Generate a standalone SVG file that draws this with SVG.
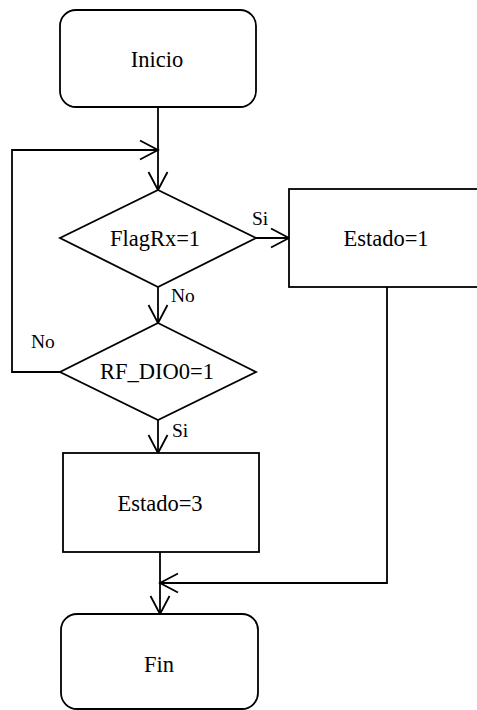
<svg xmlns="http://www.w3.org/2000/svg" width="477" height="710" viewBox="0 0 477 710">
<style>
.shape{fill:#fff;stroke:#000;stroke-width:1.8}
.conn{fill:none;stroke:#000;stroke-width:1.8}
.lbl{font-family:"Liberation Serif","Times New Roman",serif;font-size:22.5px;fill:#000;text-anchor:middle}
.sm{font-family:"Liberation Serif","Times New Roman",serif;font-size:19.5px;fill:#000}
</style>
<defs>
<marker id="arr" viewBox="-20 -11 22 22" refX="0" refY="0" markerWidth="22" markerHeight="22" markerUnits="userSpaceOnUse" orient="auto">
<path d="M-18,-9.5 L0,0 L-18,9.5" fill="none" stroke="#000" stroke-width="1.8"/>
</marker>
</defs>
<rect width="477" height="710" fill="#fff"/>
<g id="connectors">
<path class="conn" d="M158,107 V190" marker-end="url(#arr)"/>
<path class="conn" d="M60,372 H12 V150 H158" marker-end="url(#arr)"/>
<path class="conn" d="M256,238 H289" marker-end="url(#arr)"/>
<path class="conn" d="M158,287 V323" marker-end="url(#arr)"/>
<path class="conn" d="M158,420 V453" marker-end="url(#arr)"/>
<path class="conn" d="M160,552 V614" marker-end="url(#arr)"/>
<path class="conn" d="M387,287 V583 H160" marker-end="url(#arr)"/>
<text class="sm" x="252" y="225">Si</text>
<text class="sm" x="171" y="302">No</text>
<text class="sm" x="31" y="348">No</text>
<text class="sm" x="172" y="437">Si</text>
</g>
<g id="inicio">
<rect class="shape" x="60" y="10" width="196" height="97" rx="16"/>
<text class="lbl" x="157" y="67">Inicio</text>
</g>
<g id="flagrx">
<polygon class="shape" points="158,190 256,238 158,287 60,238"/>
<text class="lbl" x="155" y="246">FlagRx=1</text>
</g>
<g id="estado1">
<rect class="shape" x="289" y="189" width="200" height="98"/>
<text class="lbl" x="386" y="246">Estado=1</text>
</g>
<g id="rfdio0">
<polygon class="shape" points="158,323 256,372 158,420 60,372"/>
<text class="lbl" x="157" y="379">RF_DIO0=1</text>
</g>
<g id="estado3">
<rect class="shape" x="63" y="453" width="196" height="99"/>
<text class="lbl" x="160" y="511">Estado=3</text>
</g>
<g id="fin">
<rect class="shape" x="61" y="614" width="197" height="95" rx="16"/>
<text class="lbl" x="159" y="672">Fin</text>
</g>
</svg>
